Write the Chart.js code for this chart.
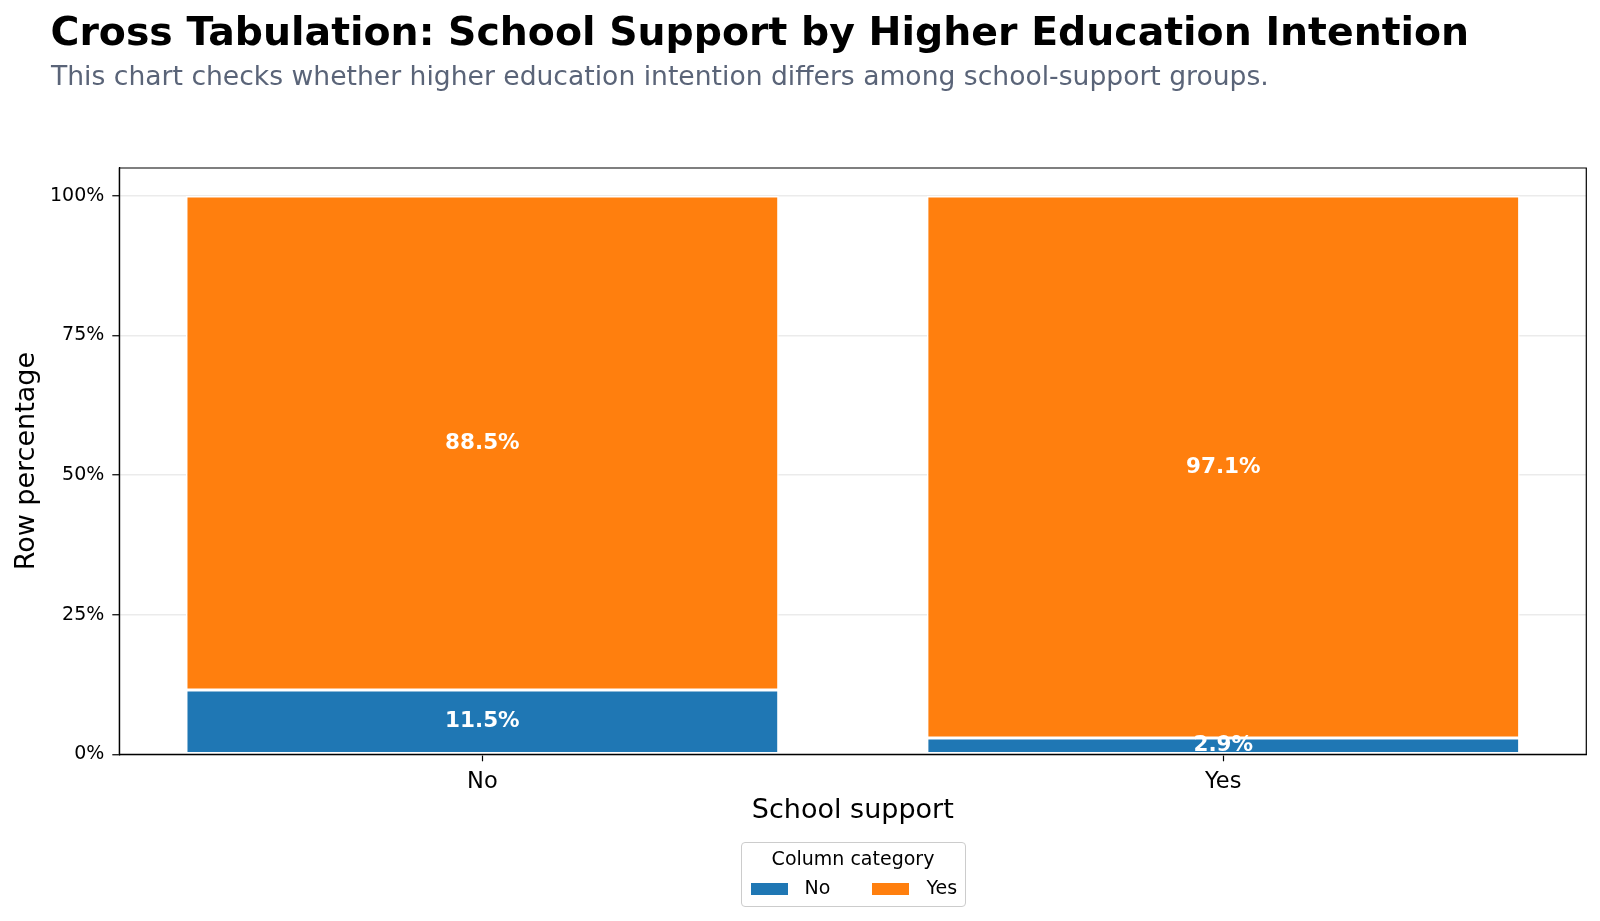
<!DOCTYPE html>
<html>
<head>
<meta charset="utf-8">
<script src="https://cdn.jsdelivr.net/npm/chart.js@4.4.1/dist/chart.umd.min.js"></script>
<style>
  html, body { margin: 0; padding: 0; background: #fff; }
  body { width: 1600px; height: 921px; position: relative; overflow: hidden; font-family: 'DejaVu Sans', sans-serif; }
  #c { position: absolute; left: 0; top: 0; }
  .title { position: absolute; left: 50.5px; top: 11.7px; font-size: 39.4px; line-height: 1; font-weight: bold; color: #000; white-space: nowrap; }
  .subtitle { position: absolute; left: 51px; top: 62.5px; font-size: 26.6px; line-height: 1; color: #5a6478; white-space: nowrap; }
  .legend { position: absolute; left: 740.5px; top: 842px; width: 223px; height: 63px; border: 1px solid #cccccc; border-radius: 4px; background: #fff; }
  .legend .lt { position: absolute; left: 0; width: 100%; top: 6px; text-align: center; font-size: 19px; line-height: 1; white-space: nowrap; }
  .legend .sw { position: absolute; width: 37px; height: 12px; }
  .legend .lab { position: absolute; font-size: 19px; line-height: 1; white-space: nowrap; }
</style>
</head>
<body>
<canvas id="c" width="1600" height="921"></canvas>
<div class="title">Cross Tabulation: School Support by Higher Education Intention</div>
<div class="subtitle">This chart checks whether higher education intention differs among school-support groups.</div>
<div class="legend" id="legend"></div>
<script>
// ---- data ----
const categories = ['No', 'Yes'];            // School support
const seriesNames = ['No', 'Yes'];           // Column category (higher education intention)
const seriesNo = [11.5, 2.9];                // row % answering "No"
const seriesYes = [88.5, 97.1];              // row % answering "Yes"
const yTickValues = [0, 25, 50, 75, 100];
const yTickLabels = ['0%', '25%', '50%', '75%', '100%'];
const seriesColors = ['#1f77b4', '#ff7f0e'];

// ---- legend (HTML) ----
const legendEl = document.getElementById('legend');
legendEl.innerHTML =
  '<div class="lt">Column category</div>' +
  '<div class="sw" style="left:9px;top:39.5px;background:' + seriesColors[0] + '"></div>' +
  '<div class="lab" style="left:63px;top:35px">' + seriesNames[0] + '</div>' +
  '<div class="sw" style="left:130px;top:39.5px;background:' + seriesColors[1] + '"></div>' +
  '<div class="lab" style="left:185px;top:35px">' + seriesNames[1] + '</div>';

const toPoints = arr => arr.map((v, i) => ({ x: i, y: v }));

const frame = {
  id: 'frame',
  afterDraw(chart) {
    const { ctx, chartArea: a } = chart;
    ctx.save();
    ctx.strokeStyle = '#000';
    ctx.lineWidth = 1.2;
    ctx.beginPath();
    ctx.moveTo(a.left, a.bottom);
    ctx.lineTo(a.left, a.top);
    ctx.lineTo(a.right, a.top);
    ctx.lineTo(a.right, a.bottom);
    ctx.lineTo(a.left, a.bottom);
    ctx.stroke();
    ctx.restore();
  }
};

const valueLabels = {
  id: 'valueLabels',
  afterDatasetsDraw(chart) {
    const { ctx } = chart;
    ctx.save();
    ctx.fillStyle = '#fff';
    ctx.font = 'bold 21.5px "DejaVu Sans"';
    ctx.textAlign = 'center';
    ctx.textBaseline = 'middle';
    chart.data.datasets.forEach((ds, di) => {
      const meta = chart.getDatasetMeta(di);
      meta.data.forEach((el, i) => {
        const v = ds.data[i].y;
        ctx.fillText(v.toFixed(1) + '%', el.x, (el.y + el.base) / 2);
      });
    });
    ctx.restore();
  }
};

Chart.defaults.font.family = '"DejaVu Sans", sans-serif';
Chart.defaults.color = '#000';

new Chart(document.getElementById('c'), {
  type: 'bar',
  data: {
    datasets: [
      { label: seriesNames[0], data: toPoints(seriesNo), backgroundColor: seriesColors[0], borderColor: '#fff', borderWidth: 1.5, borderSkipped: false },
      { label: seriesNames[1], data: toPoints(seriesYes), backgroundColor: seriesColors[1], borderColor: '#fff', borderWidth: 1.5, borderSkipped: false }
    ]
  },
  options: {
    responsive: false,
    devicePixelRatio: 1,
    animation: false,
    layout: { padding: { left: 11, right: 13.7, top: 168, bottom: 94 } },
    datasets: { bar: { barPercentage: 0.8, categoryPercentage: 1.0 } },
    plugins: { legend: { display: false }, title: { display: false }, tooltip: { enabled: false } },
    scales: {
      x: {
        type: 'linear',
        stacked: true,
        offset: false,
        min: -0.49,
        max: 1.49,
        afterBuildTicks: s => { s.ticks = categories.map((c, i) => ({ value: i })); },
        afterFit: s => { s.height = 72.7; },
        ticks: { callback: v => categories[v], font: { size: 22.5 }, padding: 7, color: '#000', maxRotation: 0, autoSkip: false },
        grid: { display: true, offset: false, drawOnChartArea: false, drawTicks: true, tickLength: 7, tickColor: '#000', tickWidth: 1.2 },
        border: { display: true, color: '#000', width: 1.2 },
        title: { display: true, text: 'School support', font: { size: 27 }, padding: 0, color: '#000' }
      },
      y: {
        stacked: true,
        min: 0,
        max: 105,
        afterBuildTicks: s => { s.ticks = yTickValues.map(v => ({ value: v })); },
        afterFit: s => { s.width = 108.3; },
        ticks: { callback: v => yTickLabels[yTickValues.indexOf(v)], font: { size: 19 }, padding: 8, color: '#000' },
        grid: { display: true, drawOnChartArea: true, drawTicks: true, tickLength: 7, color: '#ebebeb', lineWidth: 1.5, tickColor: '#000', tickWidth: 1.2 },
        border: { display: true, color: '#000', width: 1.2 },
        title: { display: true, text: 'Row percentage', font: { size: 27 }, padding: 0, color: '#000' }
      }
    }
  },
  plugins: [frame, valueLabels]
});
</script>
</body>
</html>
